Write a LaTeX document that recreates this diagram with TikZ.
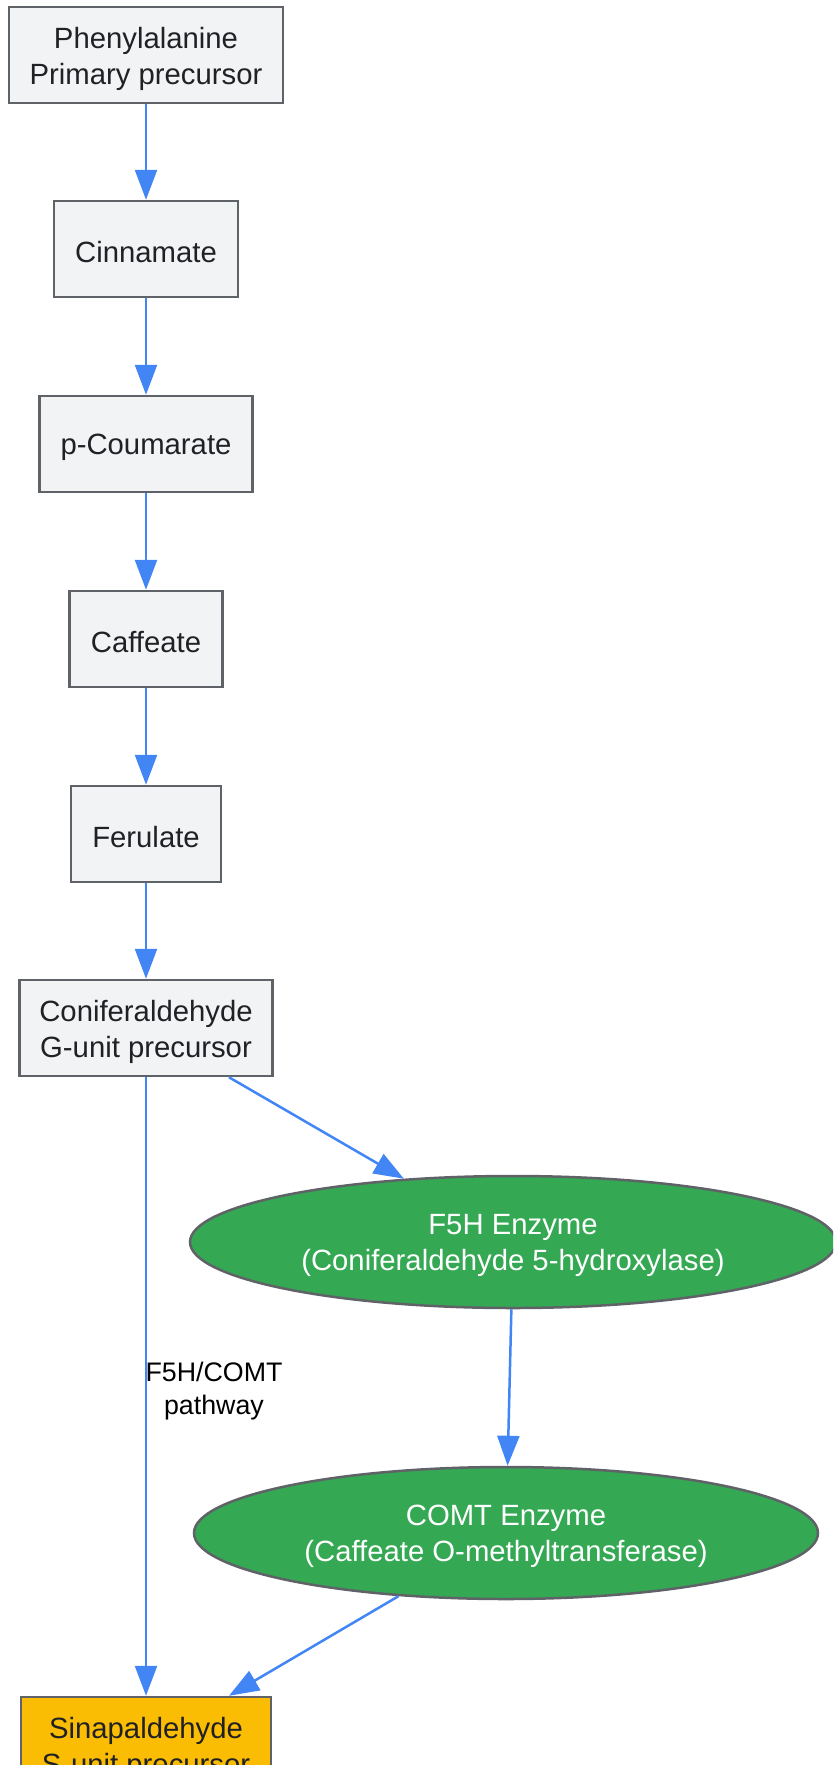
\documentclass[tikz,border=0pt]{standalone}
\usepackage{fontspec}
\setmainfont{Liberation Sans}
\usetikzlibrary{arrows.meta,shapes.geometric}
\definecolor{boxfill}{HTML}{F1F3F5}
\definecolor{boxline}{HTML}{5F6368}
\definecolor{txt}{HTML}{202124}
\definecolor{edge}{HTML}{4285F4}
\definecolor{enzgreen}{HTML}{34A853}
\definecolor{sfill}{HTML}{FBBC04}
\tikzset{
  stepbox/.style={draw=boxline, line width=2.5pt, fill=boxfill,
    minimum height=96pt, inner sep=0pt},
  enz/.style={ellipse, draw=boxline, line width=2.5pt, fill=enzgreen,
    inner sep=0pt, minimum height=132pt},
  finalbox/.style={stepbox, fill=sfill},
  boxtext/.style={text=txt, align=center, inner sep=0pt, yshift=-3.5pt,
    font=\fontsize{29.3}{36}\selectfont},
  enztext/.style={boxtext, text=white},
  flow/.style={draw=edge, line width=2.5pt, -{Triangle[length=30pt,width=22pt]}},
  lbl/.style={text=black, align=center, font=\fontsize{26.8}{33}\selectfont, inner sep=0pt}
}
\begin{document}
\begin{tikzpicture}[x=1pt,y=-1pt]
\useasboundingbox (0,0) rectangle (833,1765);
\clip (0,0) rectangle (833,1765);
\node[stepbox, minimum width=274pt] (phe) at (146,55) {};
\node[boxtext] (phe-t) at (phe.center) {Phenylalanine\\Primary precursor};
\node[stepbox, minimum width=184pt] (cin) at (146,249) {};
\node[boxtext] (cin-t) at (cin.center) {Cinnamate};
\node[stepbox, minimum width=213pt] (cou) at (146,444) {};
\node[boxtext] (cou-t) at (cou.center) {p-Coumarate};
\node[stepbox, minimum width=153pt] (caf) at (146,639) {};
\node[boxtext] (caf-t) at (caf.center) {Caffeate};
\node[stepbox, minimum width=150pt] (fer) at (146,834) {};
\node[boxtext] (fer-t) at (fer.center) {Ferulate};
\node[stepbox, minimum width=253pt] (con) at (146,1028) {};
\node[boxtext] (con-t) at (con.center) {Coniferaldehyde\\G-unit precursor};
\node[enz, minimum width=646pt] (f5h) at (513,1242) {};
\node[enztext] (f5h-t) at (f5h.center) {F5H Enzyme\\(Coniferaldehyde 5-hydroxylase)};
\node[enz, minimum width=624pt] (comt) at (506,1533) {};
\node[enztext] (comt-t) at (comt.center) {COMT Enzyme\\(Caffeate O-methyltransferase)};
\node[finalbox, minimum width=250pt] (sin) at (146,1745) {};
\node[boxtext] (sin-t) at (sin.center) {Sinapaldehyde\\S-unit precursor};
\node[lbl] (plbl) at (214,1391) {F5H/COMT\\pathway};
\draw[flow] (phe) -- (cin);
\draw[flow] (cin) -- (cou);
\draw[flow] (cou) -- (caf);
\draw[flow] (caf) -- (fer);
\draw[flow] (fer) -- (con);
\draw[flow] ([xshift=83pt]con.south) -- (f5h);
\draw[flow] (f5h) -- (comt);
\draw[flow] (comt) -- ([xshift=83pt]sin.north);
\draw[flow] (con) -- (sin);
\end{tikzpicture}
\end{document}
